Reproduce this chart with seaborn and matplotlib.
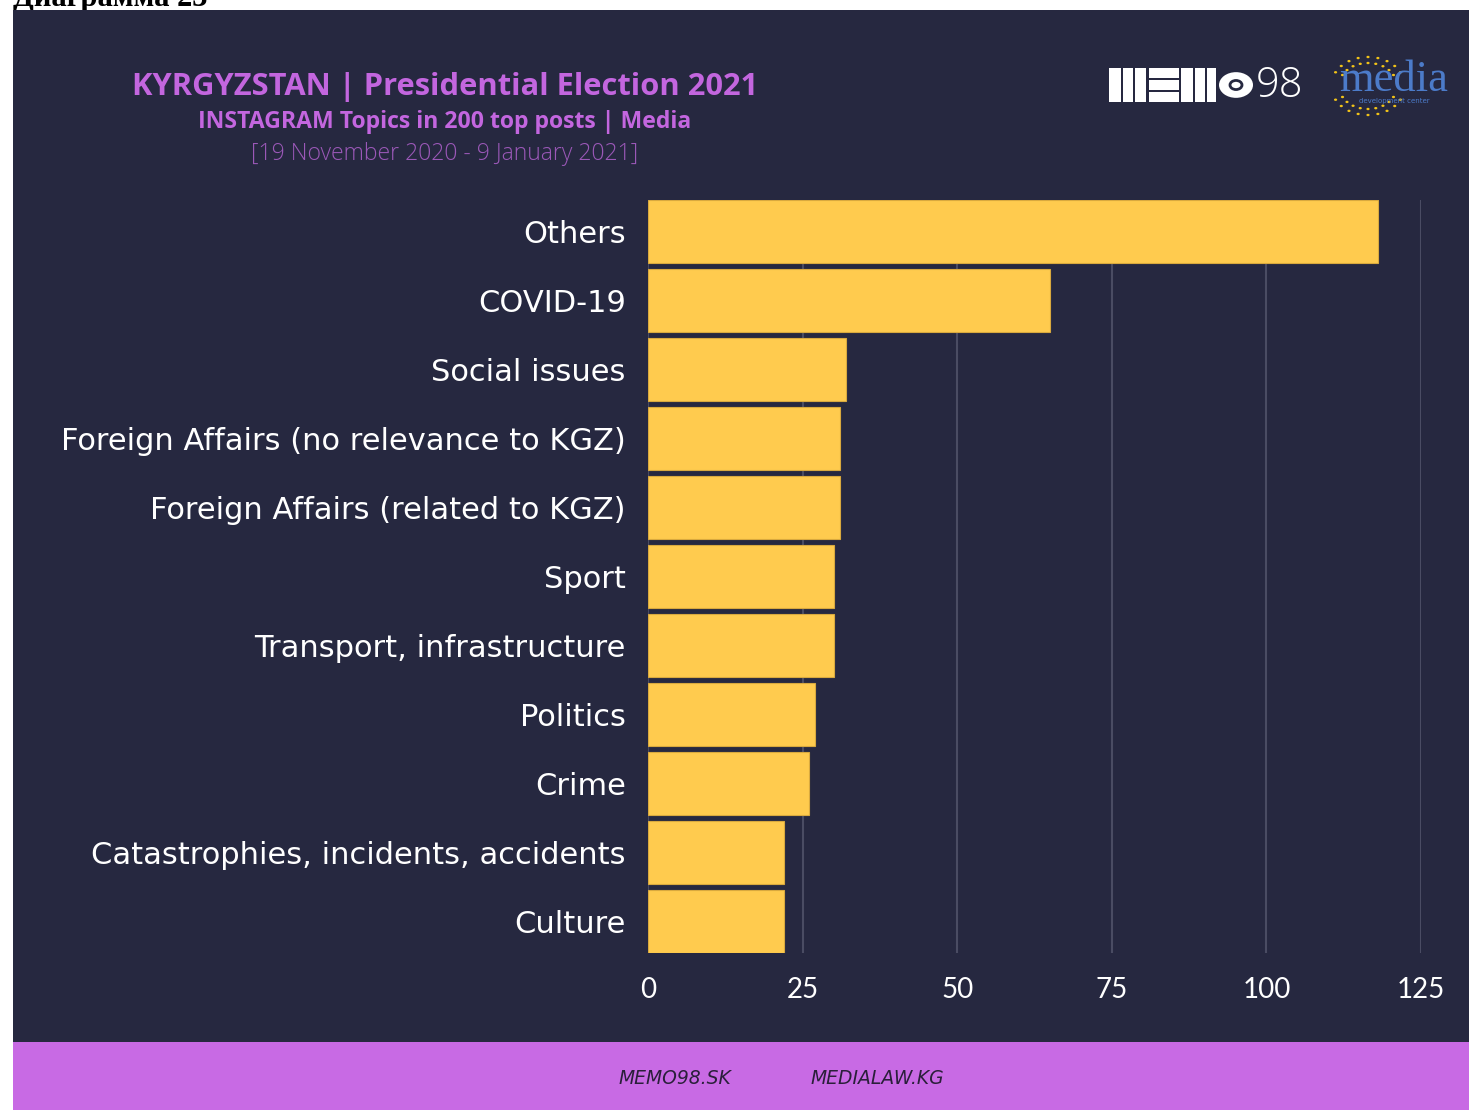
import matplotlib
matplotlib.use("Agg")
import numpy as np
import pandas as pd
import seaborn as sns
import matplotlib.pyplot as plt
from matplotlib.patches import Rectangle, Circle

categories = ["Others", "COVID-19", "Social issues",
              "Foreign Affairs (no relevance to KGZ)",
              "Foreign Affairs (related to KGZ)", "Sport",
              "Transport, infrastructure", "Politics", "Crime",
              "Catastrophies, incidents, accidents", "Culture"]
values = [118, 65, 32, 31, 31, 30, 30, 27, 26, 22, 22]
xticks = [0, 25, 50, 75, 100, 125]

title = "KYRGYZSTAN | Presidential Election 2021"
subtitle = "INSTAGRAM Topics in 200 top posts | Media"
daterange = "[19 November 2020 - 9 January 2021]"
footer_left = "MEMO98.SK"
footer_right = "MEDIALAW.KG"

BG = "#262840"
BAR = "#FFCB4E"
PURPLE = "#C86AE4"
TITLE_C = "#C366DF"
GRID = "#4A4C63"

sns.set_theme(style="white")
plt.rcParams["font.family"] = ["DejaVu Sans"]

W, H = 1469, 1110
fig = plt.figure(figsize=(W / 100, H / 100), dpi=100)
fig.patch.set_facecolor("white")

def fx(px):
    return px / W

def fy(py):
    return 1 - py / H

# cut-off caption at the top (as in the source document)
fig.text(fx(13), fy(6), "Диаграмма 23", family=["Liberation Serif", "DejaVu Serif"],
         weight="bold", fontsize=22, color="black", va="baseline", zorder=0)

# dark panel and purple footer
fig.patches.append(Rectangle((fx(13), fy(1042)), 1 - fx(13), (1042 - 10) / H,
                             transform=fig.transFigure, facecolor=BG, edgecolor="none", zorder=1))
fig.patches.append(Rectangle((fx(13), 0), 1 - fx(13), (H - 1042) / H,
                             transform=fig.transFigure, facecolor=PURPLE, edgecolor="none", zorder=1))

# titles
fig.text(fx(445), fy(87), title, ha="center", va="center", color=TITLE_C,
         family="Open Sans", weight="bold", fontsize=22.2, zorder=3)
fig.text(fx(445), fy(122), subtitle, ha="center", va="center", color=TITLE_C,
         family="Open Sans", weight="bold", fontsize=16.6, zorder=3)
fig.text(fx(445), fy(154), daterange, ha="center", va="center", color="#9B58B8",
         family="Open Sans", weight="light", fontsize=16.6, zorder=3)

# MEMO98 logo (approximation)
def frect(x0, y0, x1, y1, color="white"):
    fig.patches.append(Rectangle((fx(x0), fy(y1)), (x1 - x0) / W, (y1 - y0) / H,
                                 transform=fig.transFigure, facecolor=color,
                                 edgecolor="none", zorder=3))

for (a, b) in [(1109, 1121), (1123, 1133), (1135, 1146)]:
    frect(a, 68, b, 102)
for (a, b) in [(68, 78), (80, 90), (92, 102)]:
    frect(1149, a, 1179, b)
for (a, b) in [(1181, 1193), (1195, 1205), (1207, 1216)]:
    frect(a, 68, b, 102)
fig.patches.append(Circle((fx(1236), fy(85)), 17 / W, transform=fig.transFigure,
                          facecolor="white", edgecolor="none", zorder=3))
fig.patches.append(Circle((fx(1236), fy(85)), 6 / W, transform=fig.transFigure,
                          facecolor="white", edgecolor=BG, linewidth=2, zorder=4))
fig.text(fx(1256), fy(86), "98", ha="left", va="center", color="white",
         family="Open Sans", weight="light", fontsize=30, zorder=3)

# media development center logo (approximation)
fig.text(fx(1394), fy(80), "media", ha="center", va="center", color="#4C7BC9",
         family=["Liberation Serif", "DejaVu Serif"], fontsize=32, zorder=4)
fig.text(fx(1394), fy(101), "development center", ha="center", va="center",
         color="#4C7BC9", fontsize=5, zorder=4)
for ang in np.linspace(0.15 * np.pi, 0.85 * np.pi, 9):
    for r in (28, 22):
        fig.patches.append(Circle((fx(1368 + r * np.cos(ang) * 1.3), fy(85 - r * np.sin(ang))),
                                  1.6 / W, transform=fig.transFigure,
                                  facecolor="#F2C318", edgecolor="none", zorder=3))
        fig.patches.append(Circle((fx(1368 + r * np.cos(ang) * 1.3), fy(85 + r * np.sin(ang) + 2)),
                                  1.6 / W, transform=fig.transFigure,
                                  facecolor="#F2C318", edgecolor="none", zorder=3))

# footer
fig.text(fx(675), fy(1078), footer_left, ha="center", va="center", color="#2A1F3A",
         family="DejaVu Sans", style="italic", fontsize=13.5, zorder=3)
fig.text(fx(877), fy(1078), footer_right, ha="center", va="center", color="#2A1F3A",
         family="DejaVu Sans", style="italic", fontsize=13.5, zorder=3)

# chart
ax = fig.add_axes([fx(648), fy(953), (1421 - 648) / W, (953 - 200) / H])
ax.set_zorder(5)
ax.set_facecolor("none")
df = pd.DataFrame({"topic": categories, "count": values})
sns.barplot(data=df, x="count", y="topic", orient="h", color=BAR, saturation=1,
            width=0.91, ax=ax, edgecolor="#D9A93E", linewidth=0.8)
ax.set_xlim(0, 125)
ax.set_ylim(10.455, -0.455)
ax.set_xticks(xticks)
ax.set_xticklabels([str(t) for t in xticks])
ax.xaxis.grid(True, color=GRID, linewidth=1.5)
ax.yaxis.grid(False)
ax.set_axisbelow(True)
for s in ax.spines.values():
    s.set_visible(False)
ax.set_xlabel("")
ax.set_ylabel("")
ax.tick_params(axis="both", length=0, colors="white")
ax.tick_params(axis="y", pad=16, labelsize=22)
ax.tick_params(axis="x", pad=17, labelsize=20)
for lab in ax.get_xticklabels() + ax.get_yticklabels():
    lab.set_color("white")
for lab in ax.get_xticklabels():
    lab.set_family(["Lato", "DejaVu Sans"])

fig.savefig("out.png", dpi=100, facecolor=fig.get_facecolor())
